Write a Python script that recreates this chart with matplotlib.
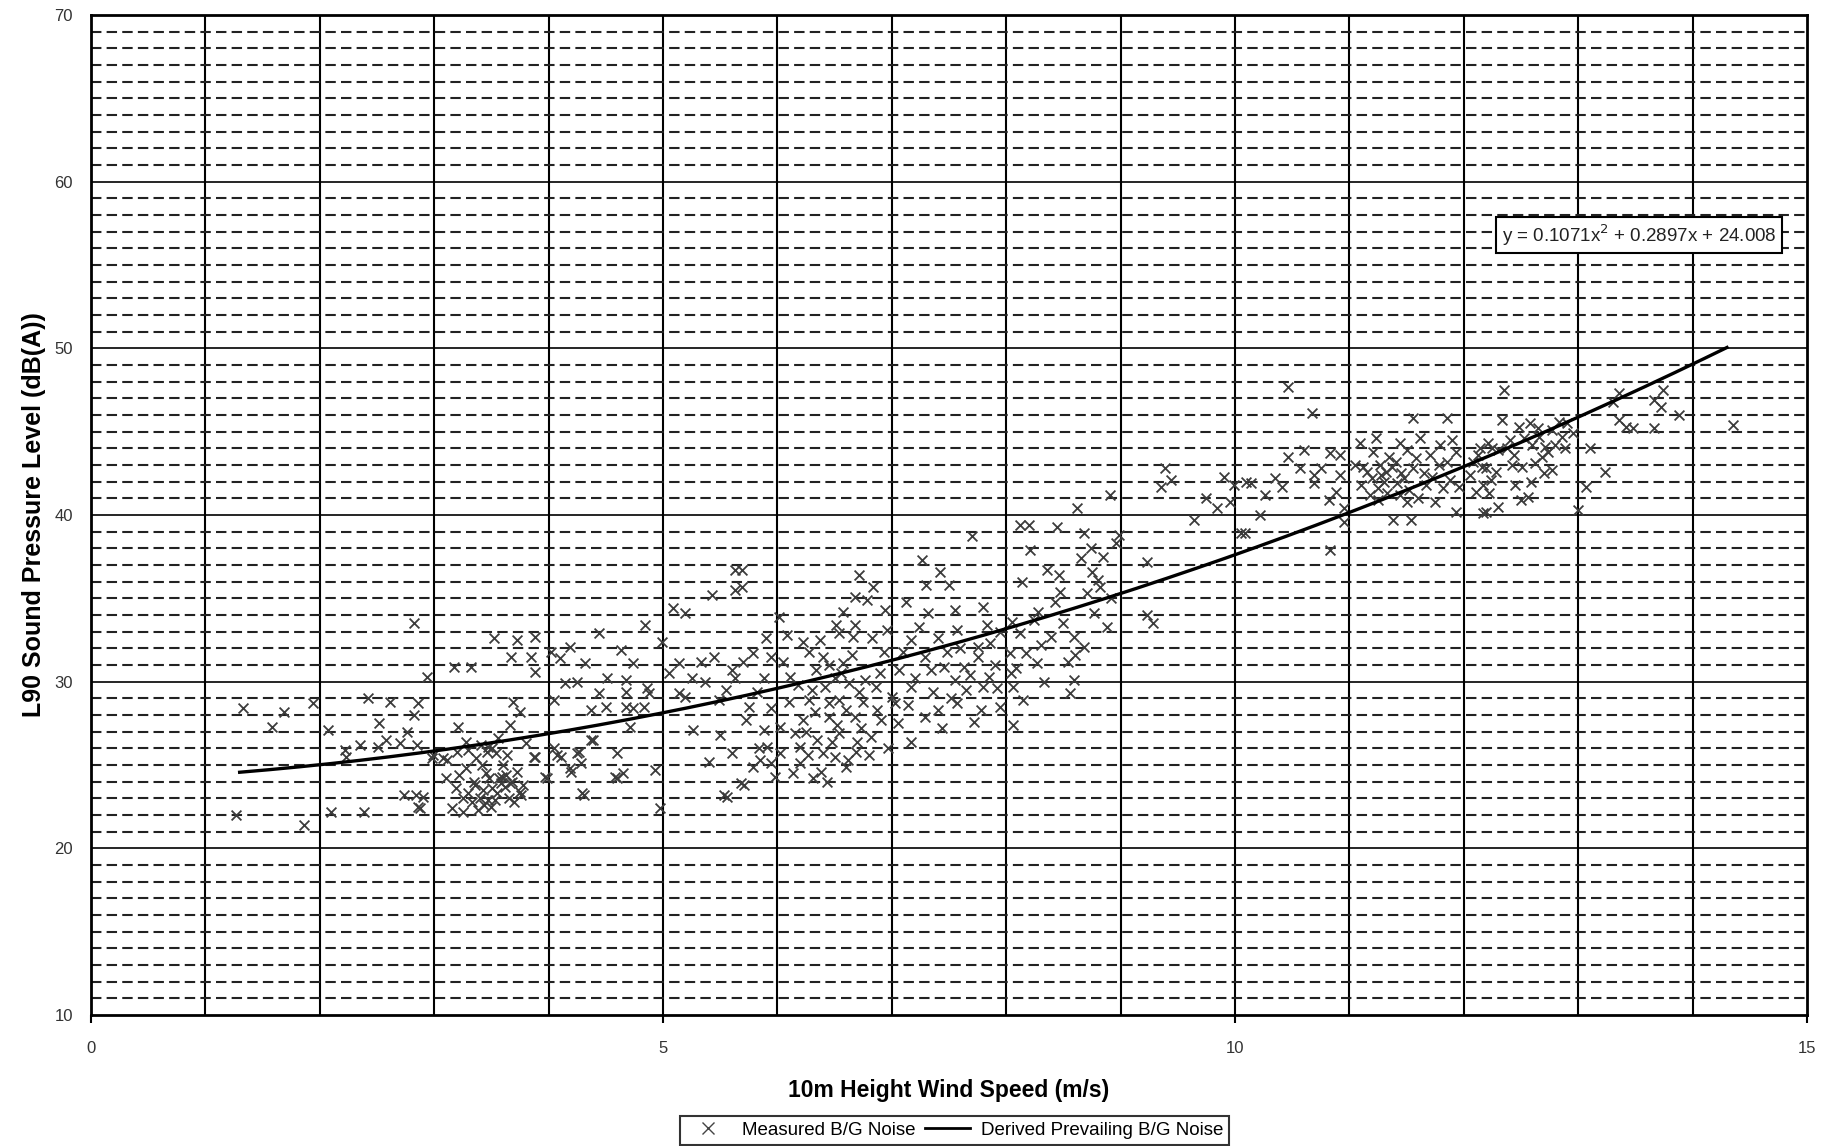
import numpy as np
import matplotlib
matplotlib.use('Agg')
import matplotlib.pyplot as plt
from matplotlib.lines import Line2D

plt.rcParams['font.family'] = ['Liberation Sans', 'DejaVu Sans']

# Measured background noise points (wind speed m/s, L90 dB(A)), grouped by wind band
band_1_3 = [(1.27, 22.0), (1.33, 28.4), (1.58, 27.3), (1.69, 28.2), (1.86, 21.4), (1.94, 28.7),
            (2.07, 27.1), (2.1, 22.2), (2.22, 25.9), (2.23, 25.5), (2.35, 26.2), (2.39, 22.2),
            (2.42, 29.0), (2.51, 26.1), (2.52, 27.5), (2.58, 26.5), (2.61, 28.8), (2.7, 26.3),
            (2.74, 23.2), (2.76, 27.0), (2.82, 33.5), (2.82, 28.0), (2.84, 23.2), (2.85, 26.2),
            (2.86, 28.7), (2.86, 22.5), (2.88, 22.4), (2.9, 23.1), (2.94, 30.3), (2.98, 25.4),
            (2.99, 25.6)]
band_3_4 = [(3.08, 25.4), (3.1, 24.2), (3.11, 25.3), (3.16, 22.4), (3.17, 30.9), (3.19, 23.6),
            (3.21, 27.3), (3.22, 24.4), (3.25, 22.2), (3.28, 24.8), (3.32, 30.9), (3.37, 25.4),
            (3.41, 26.2), (3.44, 22.6), (3.46, 25.8), (3.47, 26.1), (3.47, 22.9), (3.51, 26.0),
            (3.51, 23.6), (3.52, 32.6), (3.54, 25.7), (3.57, 24.2), (3.59, 24.3), (3.63, 24.4),
            (3.66, 27.4), (3.66, 23.9), (3.67, 31.5), (3.68, 24.0), (3.69, 28.8), (3.72, 32.5),
            (3.75, 28.2), (3.75, 23.4), (3.76, 23.2), (3.85, 31.5), (3.87, 25.5), (3.88, 32.7),
            (3.88, 30.6), (3.88, 25.5), (3.97, 24.3), (3.99, 24.2), (3.3, 23.3), (3.35, 24.0),
            (3.4, 23.0), (3.45, 24.5), (3.55, 23.3), (3.6, 25.0), (3.7, 22.8), (3.38, 22.3),
            (3.5, 22.5), (3.62, 23.7), (3.42, 25.0), (3.3, 25.9), (3.25, 23.0), (3.33, 22.8),
            (3.36, 23.8), (3.43, 23.5), (3.48, 24.2), (3.53, 22.9), (3.58, 23.9), (3.65, 23.0),
            (3.72, 24.6), (3.78, 23.8), (3.2, 25.8), (3.28, 26.4), (3.56, 26.6), (3.64, 25.6),
            (3.8, 26.3)]
band_4_5 = [(4.02, 31.8), (4.05, 28.9), (4.05, 26.0), (4.07, 25.6), (4.1, 31.4), (4.11, 25.5),
            (4.14, 29.9), (4.19, 32.1), (4.19, 24.8), (4.2, 24.6), (4.25, 30.0), (4.25, 25.7),
            (4.27, 25.8), (4.28, 25.1), (4.29, 23.3), (4.31, 23.2), (4.32, 31.1), (4.37, 28.3),
            (4.37, 26.5), (4.39, 26.5), (4.44, 32.9), (4.44, 29.3), (4.5, 28.5), (4.51, 30.2),
            (4.58, 24.3), (4.6, 25.7), (4.6, 24.2), (4.63, 31.9), (4.65, 24.5), (4.68, 30.1),
            (4.68, 29.4), (4.68, 28.5), (4.71, 27.3), (4.74, 31.1), (4.74, 28.4), (4.83, 28.5),
            (4.84, 33.4), (4.86, 29.6), (4.88, 29.3), (4.93, 24.7), (4.97, 22.4), (4.99, 32.4)]
band_5_6 = [(5.09, 34.4), (5.14, 31.1), (5.14, 29.3), (5.19, 34.1), (5.19, 29.1), (5.26, 27.1),
            (5.33, 31.2), (5.37, 30.0), (5.4, 25.2), (5.43, 35.2), (5.49, 28.9), (5.53, 23.2),
            (5.56, 23.1), (5.6, 30.7), (5.6, 25.7), (5.63, 36.7), (5.63, 35.5), (5.63, 30.2),
            (5.68, 23.9), (5.69, 36.7), (5.69, 35.7), (5.71, 23.8), (5.75, 28.5), (5.79, 31.7),
            (5.79, 24.9), (5.84, 26.0), (5.85, 25.3), (5.88, 30.2), (5.88, 27.1), (5.91, 26.1),
            (5.94, 31.5), (5.94, 28.4), (5.94, 25.1), (5.05, 30.5), (5.25, 30.2), (5.45, 31.5),
            (5.55, 29.5), (5.7, 31.2), (5.82, 29.4), (5.9, 32.6), (5.5, 26.8), (5.73, 27.7),
            (5.98, 24.3)]
band_6_7 = [(6.01, 33.9), (6.02, 27.3), (6.02, 25.7), (6.11, 30.3), (6.14, 24.5), (6.2, 26.1),
            (6.2, 25.1), (6.22, 32.4), (6.22, 27.7), (6.28, 31.8), (6.28, 28.9), (6.31, 24.2),
            (6.34, 30.7), (6.37, 32.5), (6.4, 31.5), (6.4, 25.7), (6.43, 24.0), (6.45, 28.7),
            (6.45, 27.9), (6.51, 33.4), (6.54, 32.9), (6.54, 28.9), (6.54, 26.9), (6.57, 34.2),
            (6.57, 31.1), (6.6, 24.9), (6.63, 29.9), (6.66, 32.7), (6.68, 35.1), (6.68, 33.4),
            (6.68, 27.9), (6.69, 25.8), (6.71, 36.4), (6.71, 29.4), (6.78, 34.9), (6.82, 26.7),
            (6.83, 32.6), (6.84, 35.7), (6.86, 29.7), (6.91, 27.7), (6.94, 34.3), (6.96, 33.1),
            (6.3, 29.5), (6.5, 30.2), (6.6, 28.3), (6.35, 26.5), (6.5, 25.5), (6.75, 28.8),
            (6.9, 30.5), (6.45, 31.0), (6.25, 27.0), (6.7, 26.4), (6.05, 31.2), (6.1, 28.8),
            (6.15, 26.9), (6.18, 29.8), (6.27, 25.6), (6.33, 28.2), (6.38, 24.6), (6.42, 29.7),
            (6.48, 26.4), (6.52, 27.4), (6.56, 30.5), (6.62, 25.3), (6.65, 31.6), (6.73, 27.2),
            (6.77, 30.1), (6.8, 25.6), (6.87, 28.3), (6.93, 31.8), (6.97, 26.0), (6.08, 32.8)]
band_7_8 = [(7.0, 29.1), (7.03, 28.7), (7.06, 30.7), (7.17, 32.5), (7.17, 29.7), (7.17, 26.4),
            (7.26, 37.3), (7.29, 31.5), (7.29, 27.9), (7.3, 35.8), (7.32, 34.1), (7.34, 30.7),
            (7.4, 32.6), (7.4, 28.3), (7.42, 36.6), (7.46, 30.9), (7.5, 35.8), (7.55, 34.3),
            (7.55, 30.1), (7.57, 33.1), (7.57, 28.7), (7.63, 30.9), (7.7, 38.75), (7.75, 32.1),
            (7.75, 31.5), (7.78, 28.3), (7.8, 34.5), (7.8, 29.7), (7.86, 32.3), (7.9, 31.0),
            (7.95, 33.0), (7.85, 30.3), (7.65, 29.5), (7.95, 28.5), (7.05, 27.5), (7.1, 31.8),
            (7.14, 28.6), (7.2, 30.2), (7.24, 33.3), (7.36, 29.4), (7.44, 27.2), (7.48, 31.8),
            (7.52, 29.0), (7.6, 32.0), (7.68, 30.4), (7.72, 27.6), (7.83, 33.4), (7.92, 29.6),
            (7.12, 34.8)]
band_8_10 = [(8.03, 31.7), (8.04, 30.5), (8.06, 29.7), (8.06, 27.4), (8.12, 39.4), (8.12, 32.9),
             (8.14, 36.0), (8.17, 31.7), (8.2, 39.4), (8.21, 37.9), (8.24, 33.7), (8.27, 31.1),
             (8.36, 36.7), (8.39, 32.7), (8.43, 34.8), (8.44, 39.3), (8.46, 36.4), (8.47, 35.4),
             (8.56, 29.3), (8.59, 32.7), (8.59, 30.1), (8.6, 31.6), (8.62, 40.4), (8.65, 37.4),
             (8.68, 38.9), (8.68, 32.1), (8.71, 35.3), (8.74, 38.0), (8.77, 34.1), (8.8, 36.1),
             (8.82, 35.7), (8.85, 37.5), (8.88, 33.3), (8.91, 41.2), (8.96, 38.3), (8.99, 38.8),
             (9.23, 37.2), (9.23, 34.0), (9.28, 33.5), (9.35, 41.7), (9.39, 42.8), (9.44, 42.1),
             (9.64, 39.7), (9.84, 40.4), (9.96, 40.8), (9.99, 41.8), (9.75, 41.0), (9.9, 42.3),
             (8.09, 30.8), (8.15, 28.9), (8.3, 32.2), (8.33, 30.0), (8.5, 33.5), (8.54, 31.2),
             (8.75, 36.6), (8.92, 35.0), (8.28, 34.2), (8.05, 33.6)]
band_10_12 = [(10.05, 38.9), (10.09, 38.9), (10.1, 42.0), (10.14, 41.9), (10.22, 40.0), (10.26, 41.2),
              (10.41, 41.7), (10.46, 47.7), (10.46, 43.5), (10.57, 42.8), (10.67, 46.1), (10.69, 42.4),
              (10.69, 41.9), (10.82, 40.9), (10.83, 43.7), (10.83, 37.9), (10.92, 43.6), (10.92, 42.4),
              (10.95, 40.4), (10.95, 39.6), (11.09, 44.3), (11.15, 42.6), (11.21, 43.8), (11.25, 41.6),
              (11.27, 43.0), (11.32, 42.6), (11.38, 39.7), (11.41, 43.2), (11.44, 44.3), (11.44, 41.2),
              (11.5, 40.8), (11.54, 39.7), (11.56, 45.8), (11.56, 42.8), (11.67, 41.8), (11.7, 43.6),
              (11.79, 44.2), (11.82, 41.6), (11.85, 45.8), (11.85, 43.2), (11.93, 43.8), (11.93, 40.2),
              (11.96, 41.7), (11.2, 42.2), (11.3, 42.0), (11.35, 43.5), (11.1, 41.8), (11.45, 42.5),
              (11.6, 41.0), (11.25, 40.9), (11.5, 43.9), (11.65, 42.5), (11.75, 40.8), (11.05, 43.0),
              (11.12, 42.9), (11.18, 41.2), (11.23, 44.6), (11.28, 42.4), (11.33, 41.3), (11.37, 42.9),
              (11.42, 41.9), (11.48, 42.2), (11.52, 41.5), (11.58, 43.4), (11.62, 44.6), (11.72, 42.3),
              (11.78, 43.0), (11.88, 42.1), (11.9, 44.5), (10.6, 43.9), (10.75, 42.8), (10.88, 41.4),
              (10.35, 42.2)]
band_12_15 = [(12.08, 43.2), (12.11, 41.4), (12.14, 44.0), (12.16, 42.9), (12.17, 41.8), (12.17, 40.1),
              (12.19, 42.8), (12.19, 40.2), (12.21, 44.3), (12.24, 42.1), (12.25, 44.0), (12.3, 43.9),
              (12.3, 40.5), (12.33, 45.7), (12.35, 47.5), (12.42, 43.0), (12.48, 45.3), (12.51, 42.9),
              (12.56, 41.1), (12.58, 45.5), (12.59, 42.0), (12.65, 45.2), (12.68, 43.5), (12.71, 44.1),
              (12.77, 45.1), (12.77, 42.7), (12.8, 44.2), (12.86, 44.7), (13.0, 40.3), (12.4, 44.5),
              (12.6, 44.2), (12.7, 42.5), (12.9, 45.5), (12.45, 41.8), (13.07, 41.7), (13.1, 44.0),
              (13.23, 42.6), (13.3, 46.8), (13.36, 47.3), (13.36, 45.7), (13.42, 45.3), (13.48, 45.2),
              (13.66, 46.9), (13.66, 45.2), (13.72, 46.5), (13.74, 47.5), (13.88, 46.0), (14.35, 45.4),
              (12.05, 42.4), (12.12, 43.6), (12.22, 41.3), (12.28, 42.6), (12.38, 44.0), (12.44, 43.6),
              (12.53, 44.6), (12.62, 43.1), (12.66, 44.7), (12.74, 43.8), (12.83, 45.6), (12.88, 44.0),
              (12.95, 44.9), (12.5, 40.9)]

# Trendline as printed on the chart: y = 0.1071x^2 + 0.2897x + 24.008
fit_coeffs = [0.1071, 0.2897, 24.008]
fit_range = (1.3, 14.3)

bands = [band_1_3, band_3_4, band_4_5, band_5_6, band_6_7, band_7_8, band_8_10, band_10_12, band_12_15]
points = np.array([p for band in bands for p in band])

fig = plt.figure(figsize=(18.22, 11.46), dpi=100)
ax = fig.add_axes([0.0499, 0.1143, 0.9419, 0.8726])

ax.set_xlim(0, 15)
ax.set_ylim(10, 70)

# grid: solid verticals every 1, solid horizontals every 10, dashed every 1
for xv in range(1, 15):
    ax.axvline(xv, color='black', lw=1.5, zorder=1)
for yv in range(11, 70):
    if yv % 10 == 0:
        ax.axhline(yv, color='black', lw=1.2, zorder=1)
    else:
        ax.axhline(yv, color='#222222', lw=1.5, ls=(0, (5, 2.5)), zorder=1)

ax.scatter(points[:, 0], points[:, 1], marker='x', s=50, color='#3c3c3c', linewidths=1.3, zorder=3)

xs = np.linspace(fit_range[0], fit_range[1], 200)
ax.plot(xs, np.polyval(fit_coeffs, xs), color='black', lw=2.4, zorder=4)

ax.text(12.33, 56.8, 'y = 0.1071x$^2$ + 0.2897x + 24.008', fontsize=13.5, ha='left', va='center',
        color='#222222', zorder=5,
        bbox=dict(boxstyle='square,pad=0.3', fc='white', ec='black', lw=1.5))

ax.set_xticks([0, 5, 10, 15])
ax.set_yticks(range(10, 71, 10))
ax.tick_params(axis='x', direction='out', length=6, width=1.5, pad=13, labelsize=12, colors='black',
               labelcolor='#333333')
ax.tick_params(axis='y', length=0, pad=13, labelsize=12, labelcolor='#333333')
for s in ax.spines.values():
    s.set_linewidth(2)
    s.set_color('black')

ax.set_xlabel('10m Height Wind Speed (m/s)', fontsize=16.5, fontweight='bold')
ax.xaxis.set_label_coords(0.5, -0.064)
ax.set_ylabel('L90 Sound Pressure Level (dB(A))', fontsize=18, fontweight='bold')
ax.yaxis.set_label_coords(-0.026, 0.5)

handles = [Line2D([], [], marker='x', ls='none', color='#444444', markersize=8),
           Line2D([], [], color='black', lw=2)]
leg = fig.legend(handles, ['Measured B/G Noise', 'Derived Prevailing B/G Noise'], loc='lower center',
                 bbox_to_anchor=(0.524, -0.007), ncol=2, fontsize=13.5, frameon=True, fancybox=False,
                 handlelength=2.4, columnspacing=0.5, handletextpad=0.6, borderpad=0.3)
leg.get_frame().set_edgecolor('black')
leg.get_frame().set_linewidth(1.5)

fig.savefig('out.png', dpi=100)
